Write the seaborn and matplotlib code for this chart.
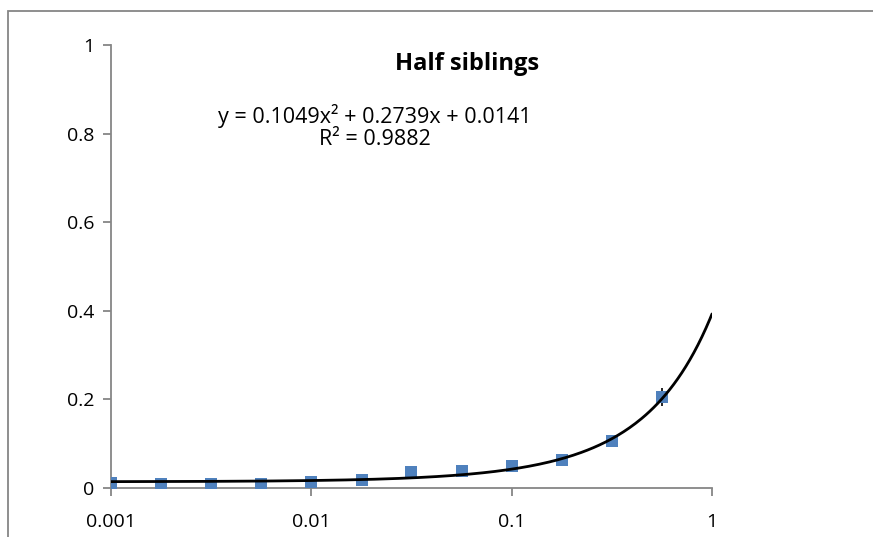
import numpy as np
import pandas as pd
import matplotlib
matplotlib.use("Agg")
import matplotlib.pyplot as plt
import seaborn as sns
from matplotlib.patches import Rectangle

# data
x_vals = [0.001, 0.00178, 0.00316, 0.00562, 0.01, 0.0178, 0.0316, 0.0562, 0.1, 0.178, 0.316, 0.562]
y_vals = [0.011, 0.009, 0.009, 0.009, 0.0135, 0.018, 0.035, 0.038, 0.050, 0.063, 0.105, 0.205]
y_err = [0.002, 0.001, 0.001, 0.001, 0.002, 0.005, 0.002, 0.002, 0.007, 0.003, 0.003, 0.020]
trend_coef = [0.1049, 0.2739, 0.0141]
y_ticks = [0, 0.2, 0.4, 0.6, 0.8, 1]
y_ticklabels = ["0", "0.2", "0.4", "0.6", "0.8", "1"]
x_ticks = [0.001, 0.01, 0.1, 1]
x_ticklabels = ["0.001", "0.01", "0.1", "1"]

sns.set_style("white")
plt.rcParams['font.family'] = ['Open Sans', 'DejaVu Sans']
plt.rcParams['text.color'] = 'black'

df = pd.DataFrame({"x": x_vals, "y": y_vals, "err": y_err})
xs = np.logspace(-3, 0, 300)
trend = pd.DataFrame({"x": xs, "y": np.polyval(trend_coef, xs)})

fig = plt.figure(figsize=(8.73, 5.37), dpi=100)
ax = fig.add_axes([111 / 873, 1 - 488 / 537, (712 - 111) / 873, (488 - 45) / 537])

gray = "#868686"
fig.patches.append(Rectangle((8 / 873, -0.2), 1.2, 1 - 11 / 537 + 0.2,
                             transform=fig.transFigure, fill=False,
                             edgecolor=gray, linewidth=1.3))

ax.errorbar(df["x"], df["y"], yerr=df["err"], fmt="none", ecolor="black",
            elinewidth=1.2, capsize=0, zorder=2)
sns.scatterplot(data=df, x="x", y="y", marker="s", s=75, color="#4F81BD",
                edgecolor="#4F81BD", linewidth=0, ax=ax, zorder=3)
sns.lineplot(data=trend, x="x", y="y", color="black", linewidth=2, ax=ax, zorder=4)

ax.set_xscale("log")
ax.set_xlim(0.001, 1)
ax.set_ylim(0, 1)
ax.set_xticks(x_ticks)
ax.set_xticklabels(x_ticklabels)
ax.set_yticks(y_ticks)
ax.set_yticklabels(y_ticklabels)
ax.minorticks_off()
ax.set_xlabel("")
ax.set_ylabel("")

for s in ["top", "right"]:
    ax.spines[s].set_visible(False)
for s in ["left", "bottom"]:
    ax.spines[s].set_color(gray)
    ax.spines[s].set_linewidth(1.3)
ax.tick_params(axis="both", direction="out", length=6, width=1.3, color=gray,
               labelsize=14, labelcolor="black", bottom=True, left=True)
ax.tick_params(axis="x", pad=12)
ax.tick_params(axis="y", pad=6)

fig.text(467 / 873, 1 - 64 / 537, "Half siblings", ha="center", va="center",
         fontsize=17, fontweight="bold", color="black")
fig.text(375 / 873, 1 - 127 / 537, "y = 0.1049x² + 0.2739x + 0.0141\nR² = 0.9882",
         ha="center", va="center", fontsize=15.5, linespacing=1.05,
         multialignment="center", color="black")

fig.savefig("out.png", dpi=100)
